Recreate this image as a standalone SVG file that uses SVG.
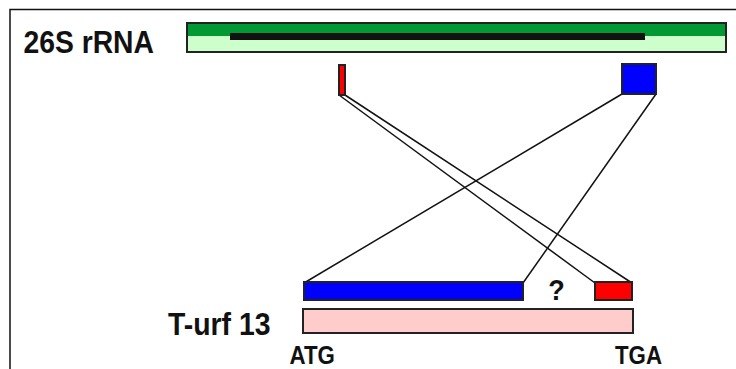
<svg xmlns="http://www.w3.org/2000/svg" width="736" height="369" viewBox="0 0 736 369">
  <style>
    .lbl { font-family: "Liberation Sans", Arial, sans-serif; font-weight: bold; fill: #111; }
    .box { stroke: #222; stroke-width: 2; }
    .link { stroke: #111; stroke-width: 1.5; fill: none; }
  </style>
  <rect width="736" height="369" fill="#fff"/>
  <!-- frame -->
  <path d="M10 369 V9.5 H736" fill="none" stroke="#111" stroke-width="1.5"/>

  <!-- connectors -->
  <g id="connectors">
    <line class="link" x1="339" y1="95" x2="595" y2="283"/>
    <line class="link" x1="345" y1="95" x2="632" y2="283"/>
    <line class="link" x1="622" y1="94" x2="304" y2="283"/>
    <line class="link" x1="656" y1="94" x2="523" y2="283"/>
  </g>

  <g id="rrna">
    <rect x="187" y="23" width="539" height="29" fill="#ccffcc"/>
    <rect x="187" y="23" width="539" height="13" fill="#009933"/>
    <rect x="230" y="33" width="415" height="7" fill="#111"/>
    <rect class="box" x="187" y="23" width="539" height="29" fill="none"/>
    <text class="lbl" transform="translate(23.5 53) scale(1 1.1)" font-size="28.3">26S rRNA</text>
  </g>

  <g id="red-segment">
    <rect class="box" x="339" y="65" width="6" height="30" fill="#ff0000" stroke-width="1.5"/>
  </g>

  <g id="blue-segment">
    <rect class="box" x="622" y="64" width="34" height="30" fill="#0000ff"/>
  </g>

  <g id="blue-orf">
    <rect class="box" x="304" y="282" width="219" height="18" fill="#0000ff"/>
  </g>

  <g id="unknown">
    <text class="lbl" transform="translate(556.5 300) scale(1 1.1)" font-size="27" text-anchor="middle">?</text>
  </g>

  <g id="red-orf">
    <rect class="box" x="595" y="282" width="37" height="18" fill="#ff0000"/>
  </g>

  <g id="turf13">
    <rect class="box" x="303" y="309" width="330" height="24" fill="#ffcccc"/>
    <text class="lbl" transform="translate(168 335) scale(1 1.1)" font-size="28.4">T-urf 13</text>
    <text class="lbl" transform="translate(289.5 364) scale(1 1.12)" font-size="22.3">ATG</text>
    <text class="lbl" transform="translate(615 364) scale(1 1.12)" font-size="22.3">TGA</text>
  </g>
</svg>
